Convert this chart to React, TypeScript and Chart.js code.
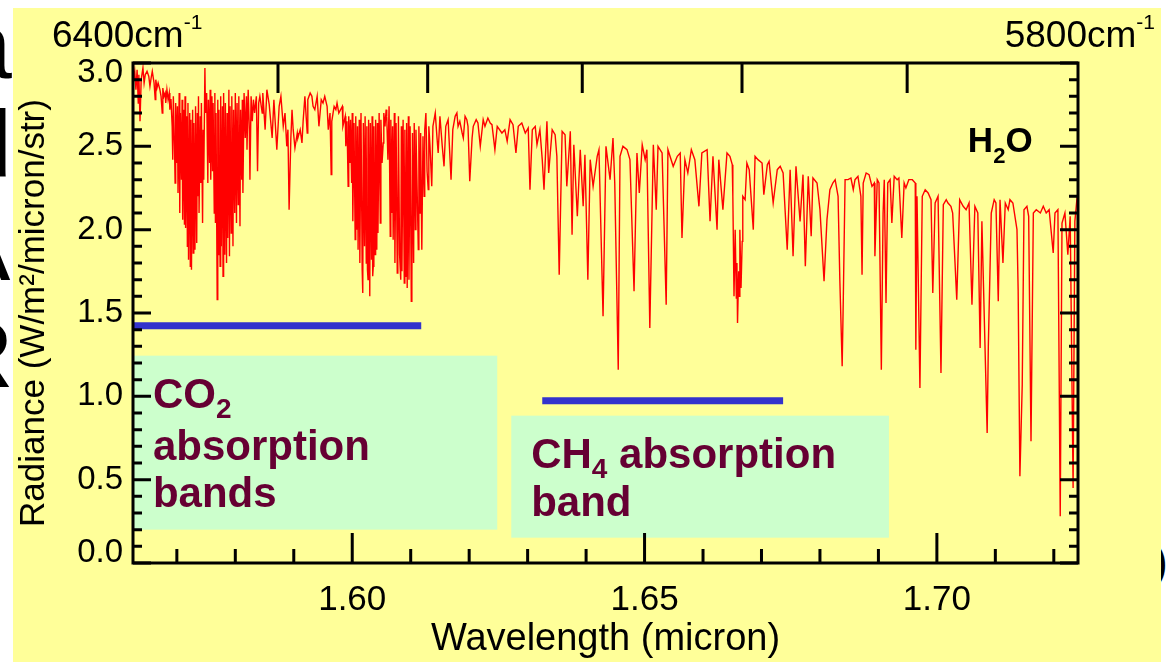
import React, { useEffect, useRef } from "react";
import { Chart, registerables } from "chart.js";

Chart.register(...registerables);

const FONT = "'Liberation Sans', Arial, Helvetica, sans-serif";

// ---------- axes ----------
const wavenumberEnds = [6400, 5800]; // cm^-1, edges of the wavelength axis
const wavenumberTicks = [6300, 6200, 6100, 6000, 5900];
const xTickValues = [1.6, 1.65, 1.7];
const xMinorTickValues = [1.57, 1.58, 1.59, 1.61, 1.62, 1.63, 1.64, 1.66, 1.67, 1.68, 1.69, 1.71, 1.72];
const yTickValues = [0, 0.5, 1.0, 1.5, 2.0, 2.5, 3.0];
const yMinorTickValues = [0.1, 0.2, 0.3, 0.4, 0.6, 0.7, 0.8, 0.9, 1.1, 1.2, 1.3, 1.4, 1.6, 1.7, 1.8, 1.9, 2.1, 2.2, 2.3, 2.4, 2.6, 2.7, 2.8, 2.9];

// ---------- spectrum (wavelength micron, radiance) ----------
const specStart: number[][] = [
  [1.5626, 2.90], [1.5628, 2.95], [1.5630, 2.84], [1.5632, 2.96], [1.5634, 2.76], [1.5635, 2.93], [1.5637, 2.65], [1.5639, 2.90],
  [1.5642, 2.97], [1.5644, 2.88], [1.5646, 2.93], [1.5649, 2.95], [1.5652, 2.92], [1.5654, 2.86], [1.5656, 2.91], [1.5658, 2.95],
  [1.5661, 2.88], [1.5663, 2.78], [1.5664, 2.90], [1.5666, 2.85], [1.5668, 2.88], [1.5671, 2.84], [1.5673, 2.80], [1.5675, 2.70],
  [1.5676, 2.85], [1.5678, 2.80], [1.5680, 2.82], [1.5681, 2.76], [1.5683, 2.84], [1.5685, 2.78], [1.5687, 2.82], [1.5688, 2.72],
  [1.5689, 2.78],
];
const co2BandA: number[][] = [
  [1.5690, 2.78], [1.5692, 2.62], [1.5693, 2.42], [1.5694, 2.80], [1.5696, 2.50], [1.5697, 2.28], [1.5698, 2.76], [1.5700, 2.40],
  [1.5701, 2.74], [1.5702, 2.22], [1.5704, 2.82], [1.5705, 2.10], [1.5706, 2.70], [1.5708, 2.30], [1.5709, 2.78], [1.5710, 2.06],
  [1.5712, 2.72], [1.5713, 2.03], [1.5714, 2.80], [1.5715, 2.01], [1.5717, 2.68], [1.5718, 1.90], [1.5719, 2.76], [1.5720, 1.82],
  [1.5722, 2.70], [1.5723, 1.78], [1.5724, 2.66], [1.5725, 1.76], [1.5727, 2.72], [1.5728, 1.86], [1.5729, 2.64], [1.5731, 1.88],
  [1.5732, 2.74], [1.5734, 1.92], [1.5735, 2.70], [1.5736, 2.20], [1.5737, 2.80], [1.5738, 2.10], [1.5740, 2.68], [1.5741, 2.28],
  [1.5742, 2.76], [1.5744, 2.04], [1.5745, 2.60], [1.5746, 2.30], [1.5748, 2.97], [1.5749, 2.70],
];
const co2BandB: number[][] = [
  [1.5751, 2.82], [1.5753, 2.28], [1.5754, 2.78], [1.5756, 2.40], [1.5757, 2.84], [1.5758, 2.30], [1.5760, 2.80], [1.5761, 2.35],
  [1.5762, 2.76], [1.5764, 2.10], [1.5765, 2.82], [1.5766, 2.04], [1.5767, 2.70], [1.5769, 1.58], [1.5770, 2.78], [1.5771, 1.85],
  [1.5772, 2.72], [1.5774, 1.78], [1.5775, 2.80], [1.5776, 1.90], [1.5778, 2.74], [1.5779, 1.72], [1.5780, 2.82], [1.5782, 1.85],
  [1.5783, 2.76], [1.5785, 1.80], [1.5786, 2.70], [1.5787, 1.95], [1.5789, 2.84], [1.5790, 1.84], [1.5791, 2.74], [1.5793, 1.98],
  [1.5794, 2.80], [1.5796, 1.90], [1.5797, 2.72], [1.5799, 2.10], [1.5800, 2.82], [1.5802, 2.04], [1.5803, 2.76], [1.5805, 2.15],
  [1.5806, 2.80], [1.5808, 2.02], [1.5809, 2.72], [1.5811, 2.30], [1.5812, 2.78], [1.5813, 2.22], [1.5815, 2.82], [1.5817, 2.55],
  [1.5819, 2.80], [1.5820, 2.48], [1.5822, 2.84], [1.5824, 2.60], [1.5825, 2.30], [1.5827, 2.80], [1.5829, 2.65], [1.5831, 2.78],
  [1.5833, 2.70], [1.5836, 2.80], [1.5838, 2.35], [1.5840, 2.76],
];
const specMid1: number[][] = [
  [1.5842, 2.80], [1.5846, 2.70], [1.5847, 2.82], [1.5851, 2.60], [1.5854, 2.84], [1.5858, 2.75], [1.5863, 2.55], [1.5866, 2.78],
  [1.5871, 2.48], [1.5875, 2.74], [1.5878, 2.80], [1.5882, 2.62], [1.5885, 2.70], [1.5888, 2.50], [1.5890, 2.60], [1.5892, 2.12],
  [1.5895, 2.55], [1.5897, 2.72], [1.5899, 2.60], [1.5902, 2.49], [1.5906, 2.58], [1.5907, 2.55], [1.5911, 2.60], [1.5914, 2.52],
  [1.5916, 2.65], [1.5919, 2.80], [1.5923, 2.58], [1.5924, 2.78], [1.5928, 2.82], [1.5931, 2.80], [1.5933, 2.74], [1.5936, 2.72],
  [1.5940, 2.80], [1.5943, 2.62], [1.5947, 2.78], [1.5950, 2.76], [1.5953, 2.80], [1.5957, 2.74], [1.5959, 2.60], [1.5962, 2.70],
  [1.5964, 2.33], [1.5965, 2.65], [1.5969, 2.74], [1.5972, 2.72], [1.5974, 2.76], [1.5977, 2.70], [1.5983, 2.74], [1.5984, 2.62],
  [1.5988, 2.68], [1.5989, 2.50],
];
const co2BandC: number[][] = [
  [1.5991, 2.65], [1.5993, 2.26], [1.5994, 2.68], [1.5996, 2.40], [1.5997, 2.66], [1.5999, 2.28], [1.6000, 2.70], [1.6001, 2.05],
  [1.6003, 2.64], [1.6005, 1.94], [1.6006, 2.68], [1.6008, 2.00], [1.6009, 2.62], [1.6010, 1.88], [1.6012, 2.66], [1.6013, 1.80],
  [1.6015, 2.70], [1.6017, 1.76], [1.6018, 1.62], [1.6019, 2.64], [1.6021, 1.90], [1.6022, 2.68], [1.6024, 1.80], [1.6025, 2.62],
  [1.6026, 1.76], [1.6027, 1.70], [1.6028, 2.66], [1.6030, 1.60], [1.6031, 2.64], [1.6033, 1.82], [1.6034, 2.68], [1.6035, 1.72],
  [1.6036, 1.78], [1.6037, 2.62], [1.6039, 1.85], [1.6040, 2.66], [1.6042, 1.88], [1.6043, 2.64], [1.6044, 1.98], [1.6046, 2.70],
  [1.6048, 2.04], [1.6049, 2.66], [1.6051, 2.40], [1.6053, 2.52], [1.6054, 2.70], [1.6056, 2.62], [1.6058, 2.72], [1.6059, 2.68],
  [1.6061, 2.42], [1.6063, 2.74], [1.6065, 1.96], [1.6066, 2.66], [1.6068, 2.10], [1.6069, 2.62], [1.6070, 1.94], [1.6072, 2.70],
  [1.6073, 1.80], [1.6075, 2.64], [1.6077, 1.74], [1.6078, 1.82], [1.6079, 2.68], [1.6081, 1.85], [1.6083, 1.70], [1.6084, 2.62],
  [1.6085, 1.75], [1.6087, 2.66], [1.6089, 1.68], [1.6090, 2.60], [1.6092, 1.72], [1.6093, 2.64], [1.6094, 1.65], [1.6096, 2.68],
  [1.6097, 1.70], [1.6099, 2.62], [1.6101, 1.57], [1.6102, 1.66], [1.6103, 2.58], [1.6105, 1.80], [1.6106, 2.64], [1.6108, 2.00],
  [1.6109, 2.60], [1.6111, 2.24], [1.6113, 1.88], [1.6114, 2.62], [1.6116, 2.10], [1.6117, 2.58], [1.6119, 1.88], [1.6121, 2.56],
  [1.6123, 2.20], [1.6124, 2.60], [1.6126, 2.70], [1.6128, 2.35], [1.6130, 2.24], [1.6131, 2.62], [1.6133, 2.50],
];
const specMid2: number[][] = [
  [1.6136, 2.26], [1.6138, 2.62], [1.6142, 2.70], [1.6145, 2.55], [1.6147, 2.46], [1.6150, 2.68], [1.6154, 2.50], [1.6157, 2.38],
  [1.6160, 2.62], [1.6164, 2.66], [1.6169, 2.30], [1.6172, 2.60], [1.6176, 2.68], [1.6179, 2.70], [1.6181, 2.62], [1.6184, 2.65],
  [1.6188, 2.58], [1.6190, 2.55], [1.6193, 2.68], [1.6196, 2.66], [1.6198, 2.62], [1.6201, 2.29], [1.6205, 2.55], [1.6207, 2.62],
  [1.6212, 2.66], [1.6215, 2.64], [1.6219, 2.50], [1.6224, 2.66], [1.6227, 2.62], [1.6232, 2.67], [1.6236, 2.64], [1.6239, 2.63],
  [1.6244, 2.48], [1.6248, 2.62], [1.6256, 2.58], [1.6261, 2.60], [1.6265, 2.53], [1.6270, 2.66], [1.6275, 2.63], [1.6280, 2.46],
  [1.6284, 2.62], [1.6290, 2.64], [1.6296, 2.58], [1.6301, 2.61], [1.6304, 2.24], [1.6308, 2.60], [1.6313, 2.62], [1.6316, 2.51],
  [1.6321, 2.60], [1.6325, 2.42], [1.6328, 2.24], [1.6333, 2.65], [1.6336, 2.34], [1.6342, 2.60], [1.6347, 2.57], [1.6350, 2.44],
  [1.6354, 1.73], [1.6359, 2.59], [1.6364, 2.57], [1.6367, 2.26], [1.6373, 2.59], [1.6376, 1.97], [1.6379, 2.51], [1.6385, 2.08],
  [1.6390, 2.48], [1.6395, 2.14], [1.6398, 2.45], [1.6403, 1.70], [1.6407, 2.42], [1.6412, 2.26], [1.6419, 2.44], [1.6422, 2.48],
  [1.6429, 1.48], [1.6434, 2.50], [1.6441, 2.30], [1.6446, 2.55], [1.6449, 2.28], [1.6455, 1.16], [1.6458, 2.44], [1.6463, 2.50],
  [1.6470, 2.48], [1.6475, 2.42], [1.6482, 1.63], [1.6487, 2.46], [1.6491, 2.22], [1.6496, 2.51], [1.6501, 2.42], [1.6504, 2.48],
  [1.6509, 1.41], [1.6515, 2.51], [1.6520, 2.12], [1.6523, 2.50], [1.6530, 2.46], [1.6537, 1.55], [1.6540, 2.48], [1.6549, 2.38],
  [1.6556, 2.44], [1.6561, 2.46], [1.6564, 1.95], [1.6569, 2.42], [1.6574, 2.34], [1.6580, 2.48], [1.6586, 2.42], [1.6593, 2.14],
  [1.6598, 2.46], [1.6607, 2.48], [1.6612, 2.05], [1.6617, 2.44], [1.6624, 2.00], [1.6627, 2.42], [1.6634, 2.12], [1.6641, 2.46],
  [1.6646, 2.44], [1.6650, 2.39],
];
const ch4Branch: number[][] = [
  [1.6651, 2.20], [1.6653, 1.60], [1.6655, 2.00], [1.6657, 1.59], [1.6658, 1.80], [1.6659, 1.44], [1.6661, 1.75], [1.6662, 1.60],
  [1.6663, 2.00], [1.6665, 1.65], [1.6667, 1.93], [1.6668, 2.20], [1.6672, 2.18], [1.6675, 2.40],
];
const specEnd: number[][] = [
  [1.6679, 2.36], [1.6686, 2.00], [1.6689, 2.44], [1.6694, 2.42], [1.6701, 2.40], [1.6704, 2.21], [1.6710, 2.39], [1.6713, 2.41],
  [1.6720, 2.16], [1.6727, 2.36], [1.6732, 2.38], [1.6737, 2.34], [1.6744, 1.88], [1.6749, 2.36], [1.6754, 1.84], [1.6759, 2.38],
  [1.6766, 2.05], [1.6771, 2.33], [1.6775, 1.78], [1.6780, 2.32], [1.6785, 1.96], [1.6788, 2.31], [1.6795, 2.28], [1.6800, 2.12],
  [1.6807, 1.69], [1.6812, 2.06], [1.6817, 2.24], [1.6822, 2.28], [1.6826, 2.30], [1.6831, 2.20], [1.6834, 1.70], [1.6838, 1.18],
  [1.6840, 1.60], [1.6843, 2.30], [1.6848, 2.30], [1.6853, 2.31], [1.6857, 2.24], [1.6860, 2.30], [1.6865, 2.32], [1.6870, 2.20],
  [1.6872, 1.73], [1.6874, 2.28], [1.6879, 2.34], [1.6884, 2.33], [1.6889, 2.26], [1.6893, 2.28], [1.6894, 1.84], [1.6898, 2.30],
  [1.6901, 2.28], [1.6905, 1.16], [1.6908, 2.10], [1.6910, 2.30], [1.6913, 1.56], [1.6916, 2.28], [1.6920, 2.30], [1.6923, 2.04],
  [1.6927, 2.32], [1.6932, 2.30], [1.6935, 2.31], [1.6940, 1.95], [1.6944, 2.28], [1.6947, 2.25], [1.6952, 2.30], [1.6958, 2.30],
  [1.6963, 2.28], [1.6964, 1.28], [1.6966, 2.20], [1.6971, 1.05], [1.6975, 2.20], [1.6980, 2.24], [1.6985, 2.22], [1.6990, 2.18],
  [1.6993, 1.62], [1.6997, 2.16], [1.7002, 2.20], [1.7007, 1.14], [1.7011, 2.15], [1.7016, 2.18], [1.7019, 2.16], [1.7024, 2.14],
  [1.7027, 2.10], [1.7034, 1.58], [1.7039, 2.18], [1.7045, 2.14], [1.7050, 2.12], [1.7055, 2.16], [1.7060, 1.55], [1.7065, 2.14],
  [1.7070, 2.10], [1.7074, 1.29], [1.7077, 2.05], [1.7086, 0.78], [1.7088, 1.30], [1.7093, 2.10], [1.7098, 2.18], [1.7101, 2.16],
  [1.7105, 1.57], [1.7108, 2.18], [1.7113, 1.80], [1.7117, 2.16], [1.7122, 2.12], [1.7125, 2.18], [1.7130, 2.16], [1.7137, 2.00],
  [1.7139, 1.64], [1.7142, 0.52], [1.7146, 1.07], [1.7149, 2.12], [1.7154, 2.14], [1.7157, 2.08], [1.7161, 0.73], [1.7165, 2.10],
  [1.7170, 2.12], [1.7177, 2.10], [1.7182, 2.14], [1.7187, 2.10], [1.7192, 2.12], [1.7199, 1.86], [1.7202, 2.10], [1.7207, 2.12],
  [1.7211, 0.28], [1.7214, 2.04], [1.7219, 2.10], [1.7224, 1.85], [1.7228, 2.08], [1.7233, 0.45], [1.7236, 2.05], [1.7240, 2.20],
];

// ---------- band markers ----------
const co2BandSpan = [1.5625, 1.6118];
const co2BandLevel = 1.424;
const ch4BandSpan = [1.6325, 1.6737];
const ch4BandLevel = 0.974;

// label boxes in data units: [lambdaLeft, lambdaRight, radianceBottom, radianceTop]
const co2Box = [1.5625, 1.6248, 0.2, 1.244];
const ch4Box = [1.6272, 1.6918, 0.152, 0.884];

type Part = { t: string; size: number; dy: number; bold: boolean };
const co2Lines: { lambda: number; r: number; parts: Part[] }[] = [
  { lambda: 1.5659, r: 0.932, parts: [{ t: "CO", size: 42, dy: 0, bold: true }, { t: "2", size: 28, dy: 10, bold: true }] },
  { lambda: 1.5659, r: 0.62, parts: [{ t: "absorption", size: 42, dy: 0, bold: true }] },
  { lambda: 1.5659, r: 0.338, parts: [{ t: "bands", size: 42, dy: 0, bold: true }] },
];
const ch4Lines: { lambda: number; r: number; parts: Part[] }[] = [
  { lambda: 1.6306, r: 0.572, parts: [{ t: "CH", size: 42, dy: 0, bold: true }, { t: "4", size: 28, dy: 10, bold: true }, { t: " absorption", size: 42, dy: 0, bold: true }] },
  { lambda: 1.6306, r: 0.284, parts: [{ t: "band", size: 42, dy: 0, bold: true }] },
];
const h2oLabel = { lambda: 1.7053, r: 2.468, parts: [{ t: "H", size: 35, dy: 0, bold: true }, { t: "2", size: 22, dy: 11, bold: true }, { t: "O", size: 35, dy: 0, bold: true }] as Part[] };

const spectrum = [...specStart, ...co2BandA, ...co2BandB, ...specMid1, ...co2BandC, ...specMid2, ...ch4Branch, ...specEnd];

const X_MIN = 1e4 / wavenumberEnds[0];
const X_MAX = 1e4 / wavenumberEnds[1];

function drawRich(ctx: CanvasRenderingContext2D, x: number, y: number, parts: Part[], align: "left" | "right", color: string) {
  let total = 0;
  const widths = parts.map((p) => {
    ctx.font = `${p.bold ? "bold " : ""}${p.size}px ${FONT}`;
    const w = ctx.measureText(p.t).width;
    total += w;
    return w;
  });
  let cx = align === "right" ? x - total : x;
  ctx.fillStyle = color;
  ctx.textAlign = "left";
  ctx.textBaseline = "alphabetic";
  parts.forEach((p, i) => {
    ctx.font = `${p.bold ? "bold " : ""}${p.size}px ${FONT}`;
    ctx.fillText(p.t, cx, y + p.dy);
    cx += widths[i];
  });
}

const decorPlugin = {
  id: "decor",
  beforeDatasetsDraw(chart: any) {
    const { ctx, scales } = chart;
    const xs = scales.x, ys = scales.y;
    ctx.save();
    ctx.fillStyle = "#CCFFCC";
    [co2Box, ch4Box].forEach((b) => {
      const x0 = xs.getPixelForValue(b[0]);
      const x1 = xs.getPixelForValue(b[1]);
      const y0 = ys.getPixelForValue(b[3]);
      const y1 = ys.getPixelForValue(b[2]);
      ctx.fillRect(x0, y0, x1 - x0, y1 - y0);
    });
    ctx.restore();
  },
  afterDatasetsDraw(chart: any) {
    const { ctx, scales, chartArea } = chart;
    const xs = scales.x, ys = scales.y;
    const { left, right, top, bottom } = chartArea;
    ctx.save();
    // text in boxes
    [...co2Lines, ...ch4Lines].forEach((ln) => {
      drawRich(ctx, xs.getPixelForValue(ln.lambda), ys.getPixelForValue(ln.r), ln.parts, "left", "#660033");
    });
    drawRich(ctx, xs.getPixelForValue(h2oLabel.lambda), ys.getPixelForValue(h2oLabel.r), h2oLabel.parts, "left", "#000");

    // frame and ticks
    ctx.strokeStyle = "#000";
    ctx.lineWidth = 3;
    ctx.lineCap = "butt";
    ctx.strokeRect(left, top, right - left, bottom - top);
    ctx.beginPath();
    const yTick = (v: number, len: number) => {
      const y = ys.getPixelForValue(v);
      ctx.moveTo(left, y); ctx.lineTo(left + len, y);
      ctx.moveTo(right, y); ctx.lineTo(right - len, y);
    };
    yTickValues.forEach((v) => yTick(v, 18));
    yMinorTickValues.forEach((v) => yTick(v, 9));
    const xTick = (v: number, len: number) => {
      const x = xs.getPixelForValue(v);
      ctx.moveTo(x, bottom); ctx.lineTo(x, bottom - len);
    };
    xTickValues.forEach((v) => xTick(v, 30));
    xMinorTickValues.forEach((v) => xTick(v, 14));
    wavenumberTicks.forEach((w) => {
      const x = xs.getPixelForValue(1e4 / w);
      ctx.moveTo(x, top); ctx.lineTo(x, top + 30);
    });
    ctx.stroke();

    // wavenumber edge labels
    drawRich(ctx, left - 81, top - 16, [
      { t: `${wavenumberEnds[0]}cm`, size: 37, dy: 0, bold: false },
      { t: "-1", size: 21, dy: -18, bold: false },
    ], "left", "#000");
    drawRich(ctx, right + 77, top - 16, [
      { t: `${wavenumberEnds[1]}cm`, size: 37, dy: 0, bold: false },
      { t: "-1", size: 21, dy: -18, bold: false },
    ], "right", "#000");
    ctx.restore();
  },
};

const backLetters = [
  { ch: "a", left: -41, top: -2, size: 95 },
  { ch: "d", left: -41, top: 97, size: 95 },
  { ch: "A", left: -53, top: 200, size: 95 },
  { ch: "R", left: -55, top: 307, size: 95 },
  { ch: ")", left: 1152, top: 538, size: 48 },
];

export default function App() {
  const ref = useRef<HTMLCanvasElement>(null);
  useEffect(() => {
    const canvas = ref.current;
    if (!canvas) return;
    const chart = new Chart(canvas, {
      type: "line",
      data: {
        datasets: [
          {
            label: "Radiance",
            data: spectrum.map(([x, y]) => ({ x, y })),
            borderColor: "#FF0000",
            borderWidth: 1.4,
            pointRadius: 0,
            tension: 0,
          },
          {
            label: "CO2 absorption bands",
            data: co2BandSpan.map((x) => ({ x, y: co2BandLevel })),
            borderColor: "#3333CC",
            borderWidth: 7,
            pointRadius: 0,
          },
          {
            label: "CH4 absorption band",
            data: ch4BandSpan.map((x) => ({ x, y: ch4BandLevel })),
            borderColor: "#3333CC",
            borderWidth: 7,
            pointRadius: 0,
          },
        ],
      } as any,
      options: {
        animation: false,
        responsive: false,
        maintainAspectRatio: false,
        layout: { padding: { top: 55, right: 83, left: 0, bottom: 0 } },
        plugins: { legend: { display: false }, tooltip: { enabled: false }, title: { display: false } },
        scales: {
          x: {
            type: "linear",
            min: X_MIN,
            max: X_MAX,
            grid: { display: false, drawTicks: false },
            border: { display: false },
            afterBuildTicks: (s: any) => {
              s.ticks = xTickValues.map((v) => ({ value: v }));
            },
            afterFit: (s: any) => {
              s.height = 99;
            },
            ticks: {
              autoSkip: false,
              maxRotation: 0,
              padding: 16,
              color: "#000",
              font: { family: FONT, size: 35 },
              callback: (v: any) => Number(v).toFixed(2),
            },
            title: {
              display: true,
              text: "Wavelength (micron)",
              color: "#000",
              font: { family: FONT, size: 38 },
              padding: { top: 0, bottom: 0 },
            },
          },
          y: {
            type: "linear",
            min: 0,
            max: 3,
            grid: { display: false, drawTicks: false },
            border: { display: false },
            afterBuildTicks: (s: any) => {
              s.ticks = yTickValues.map((v) => ({ value: v }));
            },
            afterFit: (s: any) => {
              s.width = 120;
            },
            ticks: {
              autoSkip: false,
              padding: 10,
              color: "#000",
              font: { family: FONT, size: 33, lineHeight: 0.6 },
              callback: (v: any) => {
                const n = Number(v);
                if (n === 3) return ["", "3.0"];
                if (n === 0) return ["0.0", ""];
                return n.toFixed(1);
              },
            },
            title: {
              display: true,
              text: "Radiance (W/m\u00B2/micron/str)",
              color: "#000",
              font: { family: FONT, size: 35 },
              padding: { top: 0, bottom: 0 },
            },
          },
        },
      } as any,
      plugins: [decorPlugin],
    });
    return () => chart.destroy();
  }, []);

  return (
    <div style={{ position: "fixed", left: 0, top: 0, width: 1168, height: 662, background: "#FFFFFF", overflow: "hidden" }}>
      {backLetters.map((l, i) => (
        <span
          key={i}
          style={{ position: "absolute", left: l.left, top: l.top, fontSize: l.size, lineHeight: 1, fontFamily: FONT, color: "#000" }}
        >
          {l.ch}
        </span>
      ))}
      <div style={{ position: "absolute", left: 13, top: 8, width: 1148, height: 654, background: "#FFFF99" }}>
        <canvas ref={ref} width={1148} height={654} style={{ display: "block", width: 1148, height: 654 }} />
      </div>
    </div>
  );
}
